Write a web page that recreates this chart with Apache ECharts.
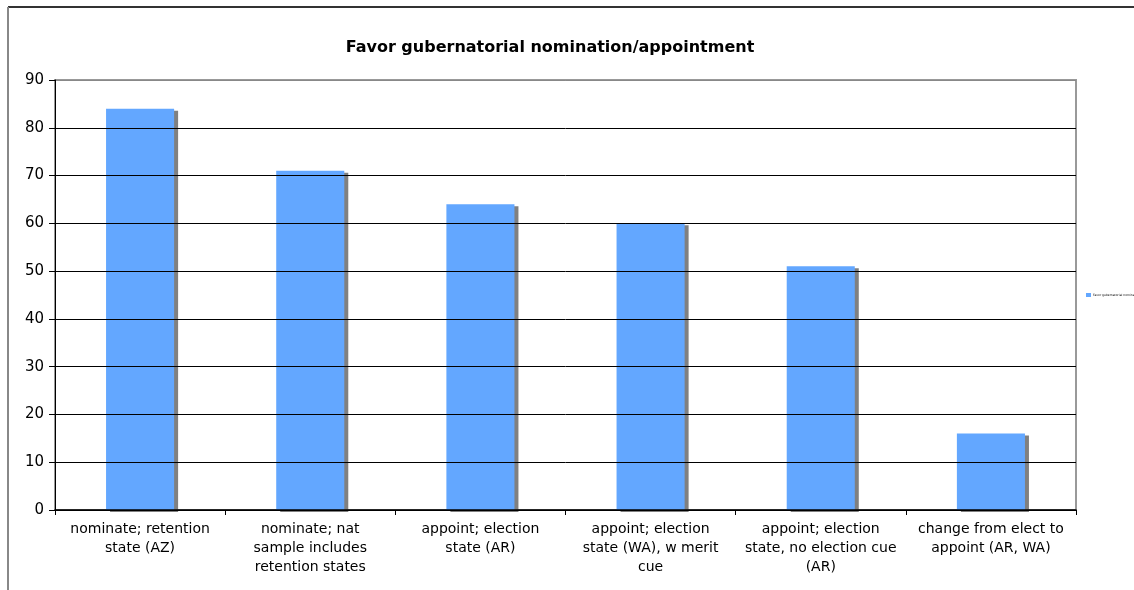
<!DOCTYPE html>
<html>
<head>
<meta charset="utf-8">
<script src="https://cdn.jsdelivr.net/npm/echarts@6/dist/echarts.min.js"></script>
<style>
  html, body { margin: 0; padding: 0; background: #fff; }
  #chart { width: 1134px; height: 590px; }
</style>
</head>
<body>
<div id="chart"></div>
<script>
var titleText = 'Favor gubernatorial nomination/appointment';
var categories = [
  'nominate; retention\nstate (AZ)',
  'nominate; nat\nsample includes\nretention states',
  'appoint; election\nstate (AR)',
  'appoint; election\nstate (WA), w merit\ncue',
  'appoint; election\nstate, no election cue\n(AR)',
  'change from elect to\nappoint (AR, WA)'
];
var favorValues = [84, 71, 64, 60, 51, 16];
var yTicks = [0, 10, 20, 30, 40, 50, 60, 70, 80, 90];

var chart = echarts.init(document.getElementById('chart'));
var font = 'DejaVu Sans, Verdana, sans-serif';

// top gridline (at 90) is grey like the frame, the rest black
var gridColors = yTicks.map(function (v, i) { return i === yTicks.length - 1 ? '#888' : '#000'; });

chart.setOption({
  animation: false,
  backgroundColor: '#fff',
  title: {
    text: titleText,
    left: 545,
    top: 35,
    textAlign: 'center',
    textStyle: { fontFamily: font, fontSize: 16, fontWeight: 'bold', color: '#000' }
  },
  legend: {
    data: [titleText],
    orient: 'vertical',
    left: 1081,
    top: 288,
    itemWidth: 5,
    itemHeight: 4,
    itemGap: 2,
    textStyle: { fontFamily: font, fontSize: 3, color: '#000', padding: [0, 0, 0, -3] },
    icon: 'rect'
  },
  grid: {
    left: 55, right: 58, top: 80, bottom: 80,
    show: true, borderColor: '#999', borderWidth: 2, backgroundColor: 'transparent'
  },
  xAxis: {
    type: 'category',
    data: categories,
    z: 10,
    axisLine: { lineStyle: { color: '#000', width: 1.5 } },
    axisTick: { show: true, length: 5, lineStyle: { color: '#000' } },
    axisLabel: {
      interval: 0, margin: 10, color: '#000',
      fontFamily: font, fontSize: 14, lineHeight: 19
    }
  },
  yAxis: {
    type: 'value',
    min: 0, max: 90, interval: 10,
    z: 10,
    axisLine: { show: true, lineStyle: { color: '#000', width: 1 } },
    axisTick: { show: true, length: 6, lineStyle: { color: '#000' } },
    axisLabel: { margin: 11, color: '#000', fontFamily: font, fontSize: 15 },
    splitLine: { show: true, lineStyle: { color: gridColors, width: 1 } }
  },
  series: [{
    name: titleText,
    type: 'bar',
    data: favorValues,
    barWidth: '40%',
    itemStyle: {
      color: '#63a7ff',
      shadowColor: '#808080',
      shadowOffsetX: 4,
      shadowOffsetY: 2,
      shadowBlur: 0
    }
  }],
  graphic: [
    { type: 'line', shape: { x1: 8, y1: 7, x2: 1134, y2: 7 }, style: { stroke: '#333', lineWidth: 2 } },
    { type: 'line', shape: { x1: 8, y1: 7, x2: 8, y2: 590 }, style: { stroke: '#888', lineWidth: 2 } }
  ]
});
</script>
</body>
</html>
